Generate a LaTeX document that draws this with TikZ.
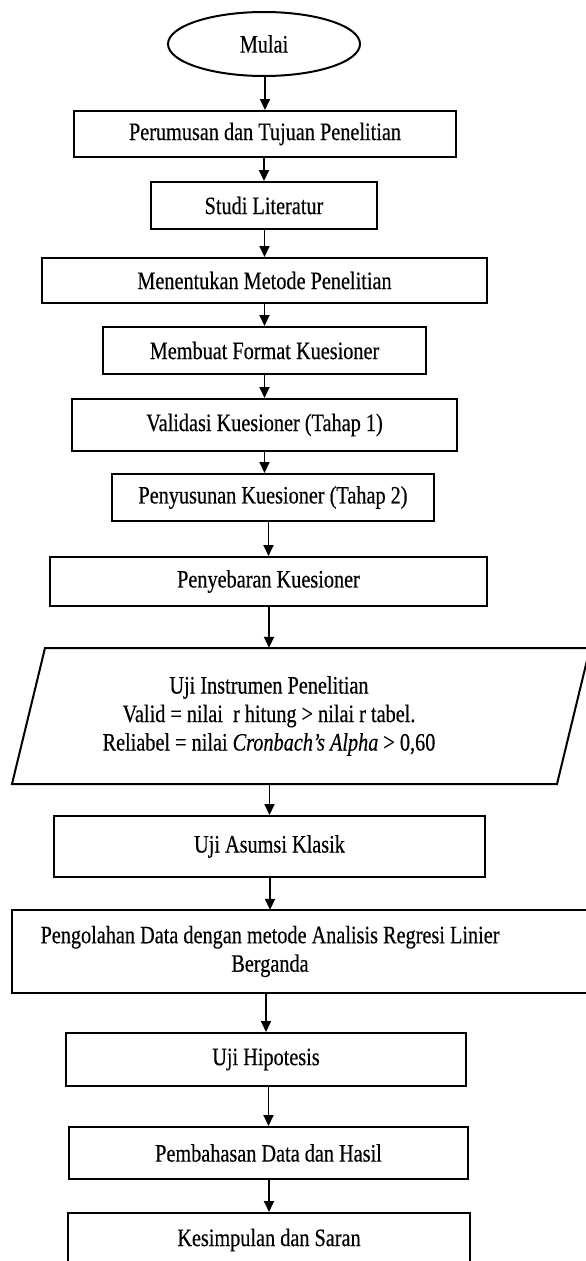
\documentclass[tikz,border=0pt]{standalone}
\usepackage{fontspec}
\setmainfont[FakeStretch=0.81,FakeBold=0.4]{Liberation Serif}
\usetikzlibrary{arrows.meta,shapes.geometric,calc}

\begin{document}
\begin{tikzpicture}[x=1pt,y=-1pt,
  box/.style={draw,line width=2pt,rectangle,inner sep=0pt},
  term/.style={draw,line width=2pt,ellipse,inner sep=0pt,minimum width=192pt,minimum height=64pt},
  txt/.style={align=center,inner sep=0pt},
  arr/.style={-{Triangle[length=11pt,width=10pt]},line width=1.8pt},
  font=\fontsize{25}{28.5}\selectfont]
  \useasboundingbox (0,0) rectangle (586,1261);
  \clip (0,0) rectangle (586,1261);
  \node[term] (m0) at (264,44) {Mulai};
  \node[box,minimum width=382pt,minimum height=46pt] (m1) at (265,134) {Perumusan dan Tujuan Penelitian};
  \node[box,minimum width=226pt,minimum height=47pt] (m2) at (264,205.5) {Studi Literatur};
  \node[box,minimum width=445pt,minimum height=45pt] (m3) at (264.5,280.5) {Menentukan Metode Penelitian};
  \node[box,minimum width=323pt,minimum height=47pt] (m4) at (264.5,350.5) {Membuat Format Kuesioner};
  \node[box,minimum width=385pt,minimum height=52pt] (m5) at (264.5,425) {Validasi Kuesioner (Tahap 1)};
  \node[box,minimum width=322pt,minimum height=47pt] (m6) at (273,497.5) {Penyusunan Kuesioner (Tahap 2)};
  \node[box,minimum width=437pt,minimum height=49pt] (m7) at (268.5,581.5) {Penyebaran Kuesioner};

  % input/output block
  \draw[line width=2pt] (45,648) -- (590,648) -- (557,784) -- (12,784) -- cycle;
  \node[txt,minimum height=136pt] (m8) at (269,716) {Uji Instrumen Penelitian\\
    Valid = nilai~ r hitung > nilai r tabel.\\
    Reliabel = nilai \textit{Cronbach's Alpha} > 0,60};

  \node[box,minimum width=431pt,minimum height=61pt] (m9) at (269.5,846.5) {Uji Asumsi Klasik};
  \node[box,minimum width=588pt,minimum height=83pt] (m10b) at (306,951.5) {};
  \node[txt,minimum height=83pt] (m10) at (270,951.5) {Pengolahan Data dengan metode Analisis Regresi Linier\\ Berganda};
  \node[box,minimum width=400pt,minimum height=53pt] (m11) at (266,1059.5) {Uji Hipotesis};
  \node[box,minimum width=399pt,minimum height=52pt] (m12) at (268.5,1153) {Pembahasan Data dan Hasil};
  \node[box,minimum width=402pt,minimum height=54pt] (m13) at (269,1240) {Kesimpulan dan Saran};

  \foreach \a/\b in {m0/m1,m1/m2,m2/m3,m3/m4,m4/m5,m6/m7,m7/m8,m8/m9,m9/m10,m10/m11,m11/m12,m12/m13}
    \draw[arr] (\a.south -| \b.north) -- (\b.north);
  \draw[arr] (m5.south) -- (m5.south |- m6.north);
\end{tikzpicture}
\end{document}
